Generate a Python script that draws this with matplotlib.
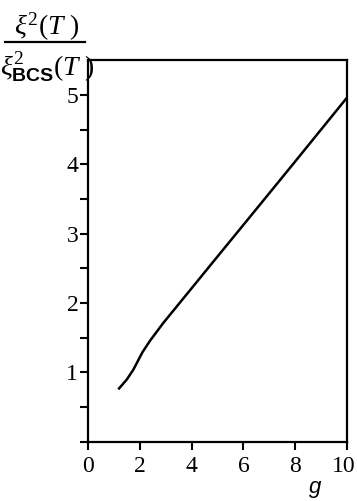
import numpy as np
import matplotlib.pyplot as plt
import matplotlib.transforms as mtransforms
from matplotlib.lines import Line2D

# coherence length ratio vs coupling g
g = [1.2, 1.5, 1.75, 2.1, 2.4, 2.9, 3.6, 5.0, 6.6, 8.0, 10.0]
ratio = [0.77, 0.90, 1.04, 1.29, 1.46, 1.71, 2.03, 2.67, 3.40, 4.04, 4.96]

x_ticks = [0, 2, 4, 6, 8, 10]
y_labels = ["1", "2", "3", "4", "5"]

plt.rcParams["font.family"] = "Liberation Serif"
plt.rcParams["mathtext.fontset"] = "custom"
plt.rcParams["mathtext.rm"] = "Liberation Serif"
plt.rcParams["mathtext.it"] = "Liberation Serif:italic"
plt.rcParams["mathtext.sf"] = "Liberation Sans:bold"

fig = plt.figure(figsize=(3.57, 5.01), dpi=100)
ax = fig.add_axes([0.2465, 0.118, 0.7255, 0.762])

ax.plot(g, ratio, color="black", lw=1.8)

ax.set_xlim(0, 10)
ax.set_ylim(0, 5.5)
ax.set_xticks(x_ticks)
ax.set_xticklabels([str(t) for t in x_ticks], fontsize=17)
yt = np.arange(0, 5.01, 0.5)
ax.set_yticks(yt)
ax.set_yticklabels([y_labels[int(v) - 1] if v == int(v) and v > 0 else "" for v in yt],
                   fontsize=17)

ax.tick_params(axis="both", direction="out", length=6, width=1.5, color="black")
ax.tick_params(axis="x", pad=4)
ax.tick_params(axis="y", pad=1)
for side in ax.spines.values():
    side.set_linewidth(1.6)

# keep the "10" inside the figure edge
last = ax.get_xticklabels()[-1]
last.set_transform(last.get_transform() +
                   mtransforms.ScaledTranslation(-3 / 100, 0, fig.dpi_scale_trans))

# y label written as a stacked fraction
fig.text(47 / 357, 1 - 27 / 501, r"$\xi^2(T\ )$", ha="center", va="center", fontsize=20)
fig.add_artist(Line2D([5 / 357, 85 / 357], [1 - 42 / 501, 1 - 42 / 501],
                      color="black", lw=1.6, transform=fig.transFigure))
fig.text(47 / 357, 1 - 68 / 501, r"$\xi^2_{\mathsf{BCS}}(T\ )$", ha="center", va="center",
         fontsize=20)

fig.text(315 / 357, 1 - 487 / 501, "g", ha="center", va="center", fontsize=16,
         fontstyle="italic", fontfamily="Liberation Sans")

fig.savefig("out.png", dpi=100)
